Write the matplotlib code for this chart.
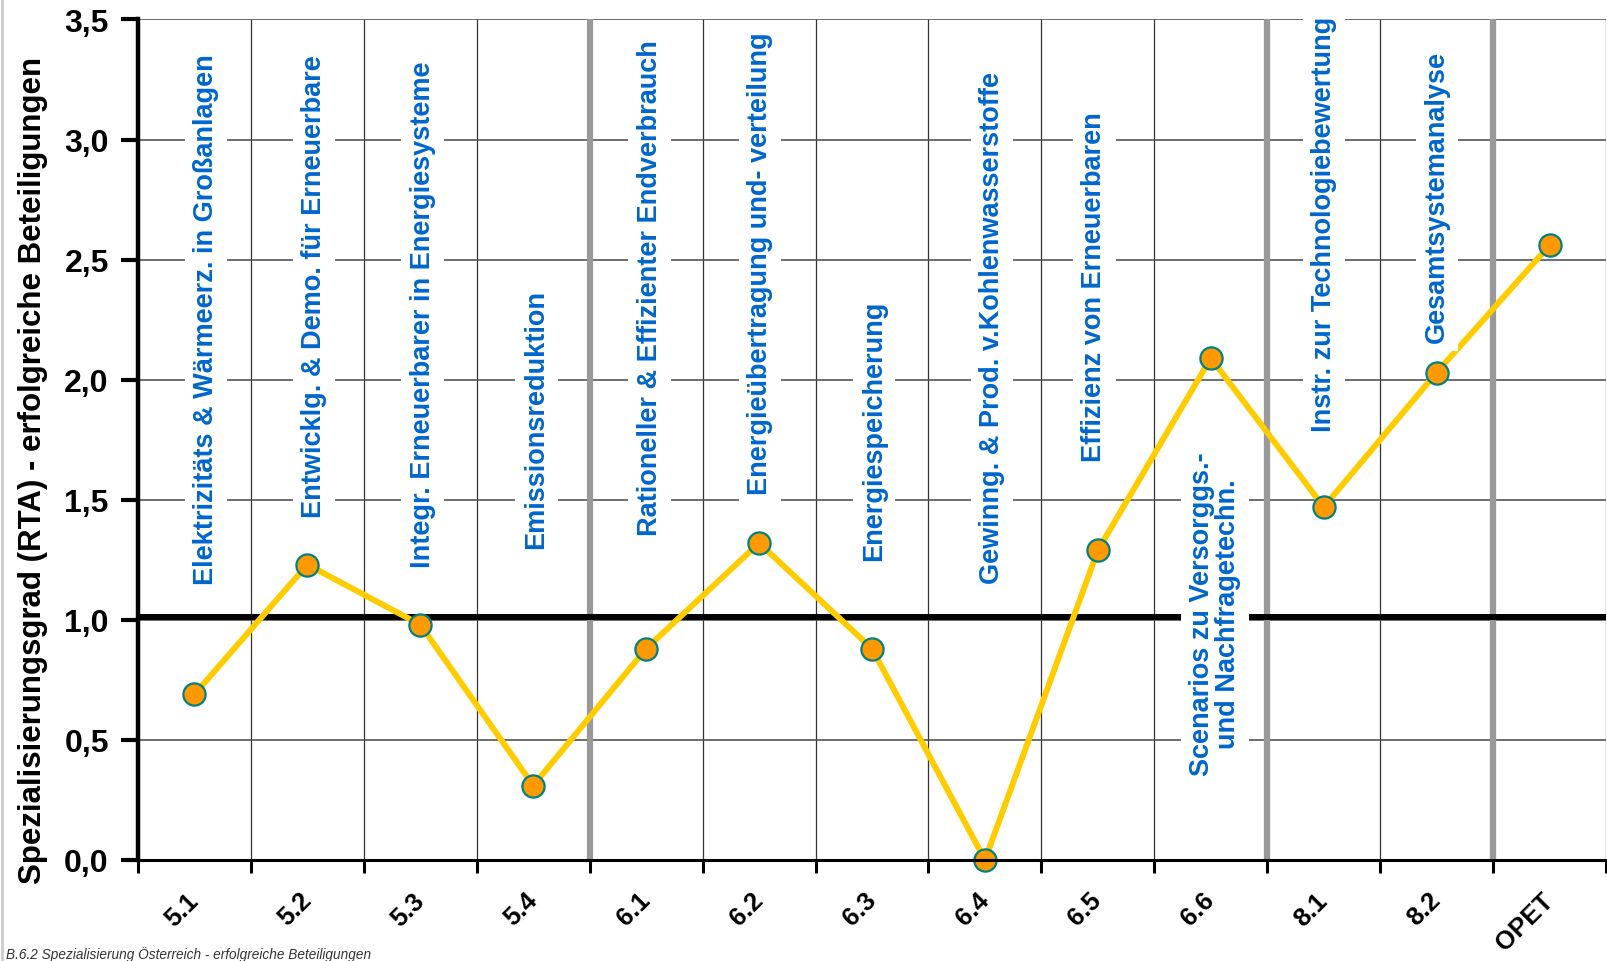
import numpy as np
import matplotlib
matplotlib.use('Agg')
import matplotlib.pyplot as plt

plt.rcParams['font.family'] = ['Liberation Sans', 'DejaVu Sans']

categories = ['5.1', '5.2', '5.3', '5.4', '6.1', '6.2', '6.3', '6.4', '6.5', '6.6', '8.1', '8.2', 'OPET']
rta = [0.69, 1.23, 0.98, 0.31, 0.88, 1.32, 0.88, 0.0, 1.29, 2.09, 1.47, 2.03, 2.56]
topics = ['Elektrizitäts & Wärmeerz. in Großanlagen',
          'Entwicklg. & Demo. für Erneuerbare',
          'Integr. Erneuerbarer in Energiesysteme',
          'Emissionsreduktion',
          'Rationeller & Effizienter Endverbrauch',
          'Energieübertragung und- verteilung',
          'Energiespeicherung',
          'Gewinng. & Prod. v.Kohlenwasserstoffe',
          'Effizienz von Erneuerbaren',
          'Scenarios zu Versorggs.-\nund Nachfragetechn.',
          'Instr. zur Technologiebewertung',
          'Gesamtsystemanalyse']
y_ticks = [0.0, 0.5, 1.0, 1.5, 2.0, 2.5, 3.0, 3.5]
y_ticklabels = ['0,0', '0,5', '1,0', '1,5', '2,0', '2,5', '3,0', '3,5']
separators = [3.5, 9.5, 11.5]  # group boundaries (5.x | 6.x | 8.x | OPET)

# where each rotated topic label starts (bottom end, data units)
label_x_shift = [0.1, 0.06, 0.02, 0.03, 0.03, 0.01, 0.02, 0.06, -0.03, 0.04, 0.0, 0.0]
label_y = [1.15, 1.43, 1.22, 1.30, 1.355, 1.525, 1.25, 1.155, 1.66, 0.355, 1.785, 2.155]

fig = plt.figure(figsize=(16.08, 9.62), dpi=100)
ax = fig.add_axes([0.0858, 0.105, 0.9130, 0.8737])

x = np.arange(len(categories))
ax.set_xlim(-0.5, len(categories) - 0.5)
ax.set_ylim(0, 3.5)

# grid
ax.set_xticks(np.arange(-0.5, len(categories)), minor=True)
ax.set_xticks(x, categories, rotation=45, ha='right', va='center', rotation_mode='anchor',
              fontsize=18.5, fontweight='bold')
ax.tick_params(axis='x', which='major', length=0, pad=26)
ax.tick_params(axis='x', which='minor', length=9, width=2.2, direction='out', color='black')
ax.grid(axis='x', which='minor', color='#333333', linewidth=0.9, zorder=0)
ax.grid(axis='y', which='major', color='#555555', linewidth=1.2, zorder=0)
ax.set_axisbelow(True)

ax.set_yticks(y_ticks, y_ticklabels, fontsize=23, fontweight='bold')
ax.tick_params(axis='y', length=12, width=3, direction='out', pad=9)

for s in ['top', 'right']:
    ax.spines[s].set_visible(False)
ax.spines['left'].set_linewidth(3.2)
ax.spines['bottom'].set_linewidth(2.2)
ax.spines['left'].set_zorder(6)
ax.spines['bottom'].set_zorder(6)

for sx in separators:
    ax.axvline(sx, color='#999999', linewidth=4.5, zorder=1)

ax.axhline(1.012, color='black', linewidth=4.3, zorder=2)

for i, t in enumerate(topics):
    ax.text(i + label_x_shift[i], label_y[i], t, rotation=90, ha='center', va='bottom',
            color='#0066CC', fontsize=19.5, fontweight='bold', multialignment='center',
            linespacing=1.0, zorder=3,
            bbox=dict(boxstyle='square,pad=0.3', facecolor='white', edgecolor='none'))

ax.plot(x, rta, color='#FFCC00', linewidth=4.3, zorder=2.5)
ax.plot(x, rta, linestyle='none', marker='o', markersize=16, markerfacecolor='#FF9900',
        markeredgecolor='#008080', markeredgewidth=1.6, zorder=5, clip_on=False)

ax.set_ylabel('Spezialisierungsgrad (RTA) - erfolgreiche Beteiligungen', fontsize=22.5,
              fontweight='bold')
ax.yaxis.set_label_coords(-0.061, 0.465)

fig.text(0.004, 0.0035, 'B.6.2 Spezialisierung Österreich - erfolgreiche Beteiligungen',
         fontsize=9.8, style='italic', color='#333333')
fig.add_artist(plt.Line2D([0.001, 0.001], [0, 1], transform=fig.transFigure,
                          color='#cccccc', linewidth=2))

fig.savefig('out.png', dpi=100)
